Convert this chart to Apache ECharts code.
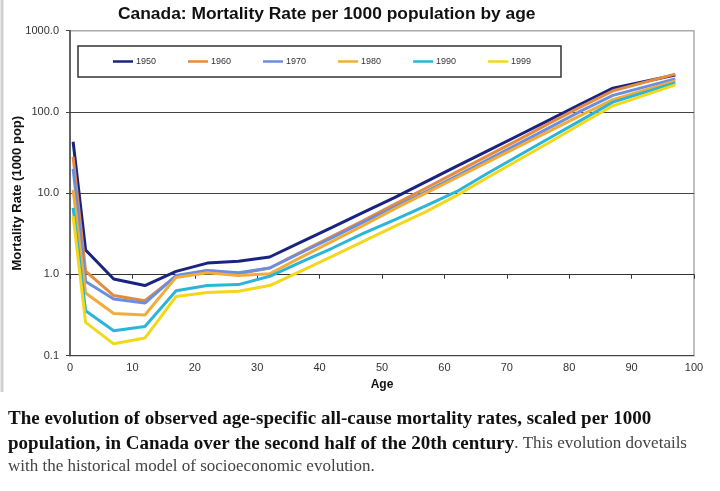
<!DOCTYPE html>
<html>
<head>
<meta charset="utf-8">
<script src="https://cdn.jsdelivr.net/npm/echarts@6/dist/echarts.min.js"></script>
<style>
html,body{margin:0;padding:0;background:#fff;}
#c{width:720px;height:491px;}
</style>
</head>
<body>
<div id="c"></div>
<script>
const ages = [0.5, 2.5, 7, 12, 17, 22, 27, 32, 37, 42, 47, 52, 57, 62, 67, 72, 77, 82, 87, 97];
const y1950 = [43, 2.0, 0.88, 0.73, 1.09, 1.38, 1.45, 1.64, 2.5, 3.8, 5.8, 8.8, 13.8, 21.5, 33.5, 52, 81, 127, 196, 285];
const y1960 = [28, 1.1, 0.55, 0.475, 0.95, 1.12, 1.02, 1.2, 1.88, 2.95, 4.6, 7.3, 11.5, 18.3, 29, 46, 74, 117, 182, 292];
const y1970 = [20, 0.82, 0.5, 0.445, 0.97, 1.12, 1.05, 1.2, 1.85, 2.83, 4.4, 6.75, 10.4, 16.4, 26, 41, 65, 104, 160, 255];
const y1980 = [11, 0.59, 0.33, 0.317, 0.92, 1.05, 0.97, 1.02, 1.62, 2.55, 4.0, 6.4, 10, 15.6, 24.3, 38, 59, 92, 142, 240];
const y1990 = [6.6, 0.357, 0.203, 0.229, 0.63, 0.73, 0.75, 0.95, 1.42, 2.1, 3.2, 4.7, 7.0, 10.5, 17.7, 29.3, 48.5, 80, 132, 228];
const y1999 = [5.2, 0.257, 0.14, 0.165, 0.535, 0.6, 0.62, 0.73, 1.1, 1.67, 2.55, 3.9, 5.9, 9.4, 15.7, 26, 43, 72, 119, 215];
const seriesNames = ['1950', '1960', '1970', '1980', '1990', '1999'];
const seriesValues = [y1950, y1960, y1970, y1980, y1990, y1999];
const xTickLabels = ['0','10','20','30','40','50','60','70','80','90','100'];
const yTickLabels = ['0.1','1.0','10.0','100.0','1000.0'];
const colors = ['#1a2382', '#e38b3f', '#6b8ee0', '#f2ac3a', '#2bb5d9', '#f2d81c'];

const capLine1 = 'The evolution of observed age-specific all-cause mortality rates, scaled per 1000';
const capLine2Bold = 'population, in Canada over the second half of the 20th century';
const capLine2Norm = '. This evolution dovetails';
const capLine3 = 'with the historical model of socioeconomic evolution.';

const boldFont = 'bold 19px "Liberation Serif"';
const normFont = '17px "Liberation Serif"';
const mctx = document.createElement('canvas').getContext('2d');
mctx.font = boldFont;
const boldW = mctx.measureText(capLine2Bold).width;

const chart = echarts.init(document.getElementById('c'), null, {renderer: 'canvas'});

const series = seriesNames.map((n, i) => ({
  name: n,
  type: 'line',
  xAxisIndex: 0,
  symbol: 'none',
  data: ages.map((a, j) => [a, seriesValues[i][j]]),
  lineStyle: {width: 3, color: colors[i]},
  itemStyle: {color: colors[i]},
  z: 3 + i
}));

function yLabel(v) {
  const idx = Math.round(Math.log10(v)) + 1;
  return yTickLabels[idx] !== undefined ? yTickLabels[idx] : '';
}

const option = {
  animation: false,
  backgroundColor: '#fff',
  title: {
    text: 'Canada: Mortality Rate per 1000 population by age',
    left: 113, top: 1,
    textStyle: {fontFamily: 'Liberation Sans', fontWeight: 'bold', fontSize: 17.4, color: '#111'}
  },
  grid: {
    left: 70, right: 26, top: 30.7, bottom: 135.3,
    outerBoundsMode: 'none', containLabel: false,
    show: true, borderColor: '#aaaaaa', borderWidth: 1.5, backgroundColor: 'transparent'
  },
  legend: {
    left: 113, top: 57, padding: 0,
    icon: 'rect', itemWidth: 20, itemHeight: 2.5, itemGap: 32,
    textStyle: {fontFamily: 'Liberation Sans', fontSize: 9, color: '#333', padding: [0,0,0,-2]},
    data: seriesNames
  },
  xAxis: [{
    type: 'value', min: 0, max: 100, interval: 10,
    position: 'bottom',
    name: 'Age', nameLocation: 'middle', nameGap: 23, nameMoveOverlap: false,
    nameTextStyle: {fontFamily: 'Liberation Sans', fontWeight: 'bold', fontSize: 12, color: '#111'},
    axisLine: {show: false},
    axisTick: {show: false},
    splitLine: {show: false},
    axisLabel: {
      margin: 7, fontFamily: 'Liberation Sans', fontSize: 11, color: '#333',
      formatter: v => xTickLabels[Math.round(v / 10)]
    }
  }, {
    type: 'value', min: 0, max: 100, interval: 10,
    position: 'bottom', offset: -81,
    axisLine: {show: true, lineStyle: {color: '#333', width: 1}},
    axisTick: {show: true, length: 4, lineStyle: {color: '#333'}},
    axisLabel: {show: false},
    splitLine: {show: false}
  }],
  yAxis: {
    type: 'log', logBase: 10, min: 0.1, max: 1000,
    name: 'Mortality Rate (1000 pop)', nameLocation: 'middle', nameGap: 46, nameRotate: 90,
    nameMoveOverlap: false,
    nameTextStyle: {fontFamily: 'Liberation Sans', fontWeight: 'bold', fontSize: 13, color: '#111'},
    axisLine: {show: true, lineStyle: {color: '#444', width: 1.5}},
    axisTick: {show: true, length: 4, lineStyle: {color: '#444'}},
    axisLabel: {margin: 11, fontFamily: 'Liberation Sans', fontSize: 11, color: '#333', formatter: yLabel},
    splitLine: {show: true, lineStyle: {color: ['#444', '#444', '#444', '#444', '#aaaaaa'], width: 1.2}}
  },
  graphic: [
    {type: 'line', shape: {x1: 2, y1: 0, x2: 2, y2: 392}, style: {stroke: '#cfcfcf', lineWidth: 3}, z: 0},
    {type: 'rect', shape: {x: 78, y: 46, width: 483, height: 31}, style: {fill: '#fff', stroke: '#333', lineWidth: 1.5}, z: 1},
    {type: 'text', x: 8, y: 419, z: 10,
      style: {text: capLine1, font: boldFont, fill: '#111', verticalAlign: 'middle'}},
    {type: 'text', x: 8, y: 444, z: 10,
      style: {text: capLine2Bold, font: boldFont, fill: '#111', verticalAlign: 'middle'}},
    {type: 'text', x: 8 + boldW, y: 444, z: 10,
      style: {text: capLine2Norm, font: normFont, fill: '#444', verticalAlign: 'middle'}},
    {type: 'text', x: 8, y: 467, z: 10,
      style: {text: capLine3, font: normFont, fill: '#444', verticalAlign: 'middle'}}
  ],
  series: series
};
chart.setOption(option);
</script>
</body>
</html>
